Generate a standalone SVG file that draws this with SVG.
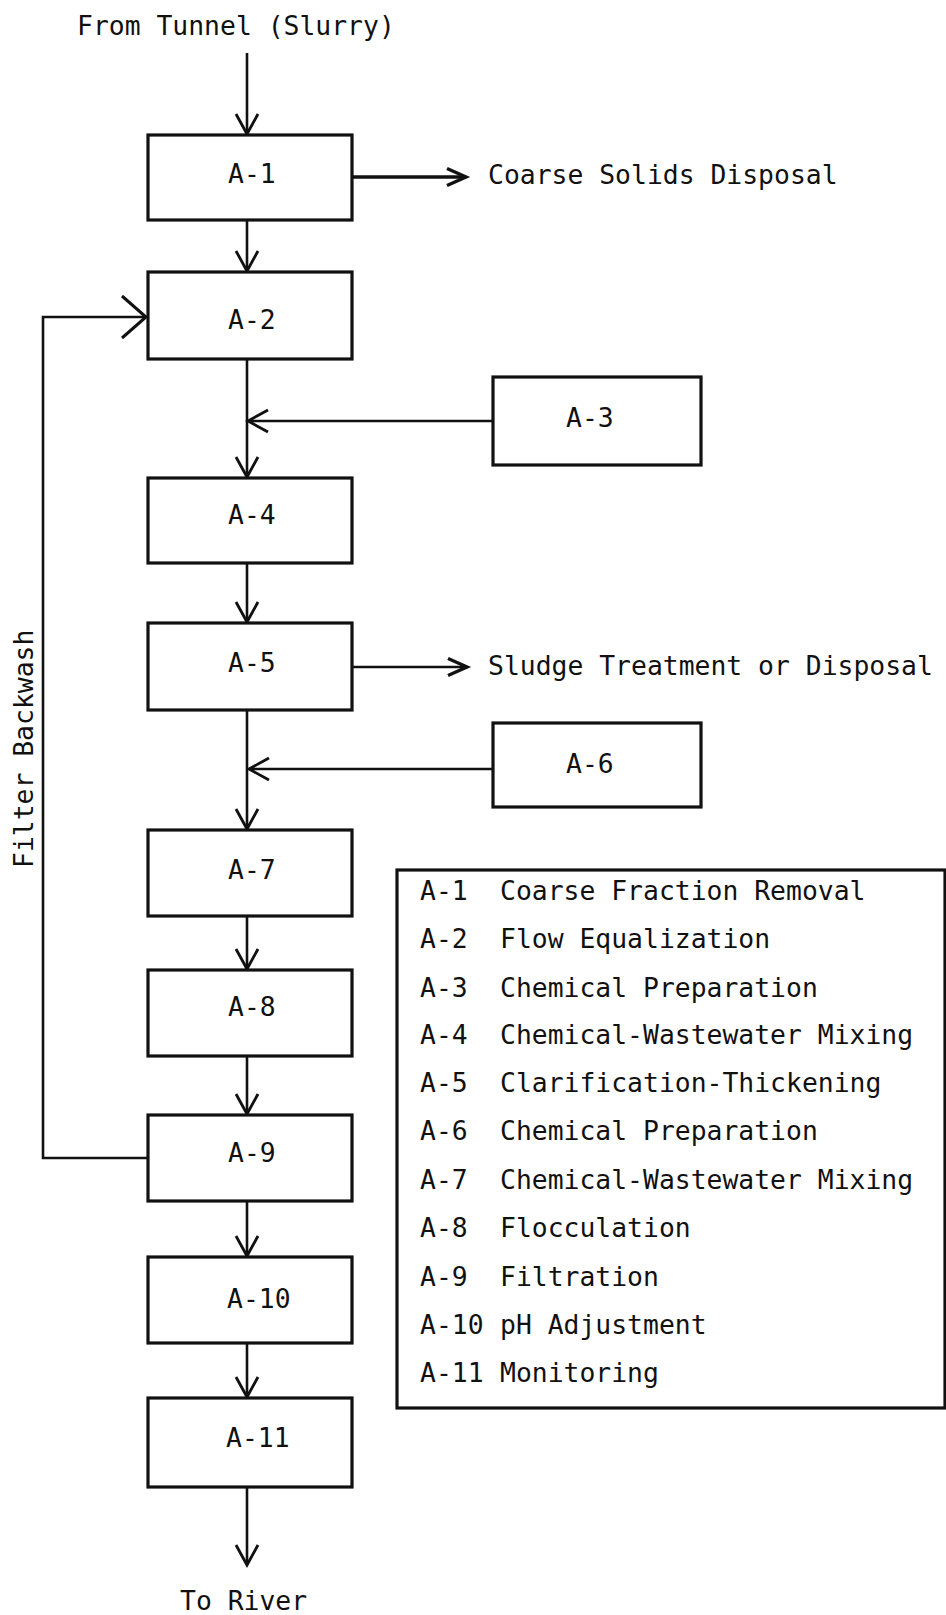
<svg xmlns="http://www.w3.org/2000/svg" width="946" height="1615" viewBox="0 0 946 1615">
<style>
text{font-family:"DejaVu Sans Mono","Liberation Mono",monospace;font-size:26.4px;fill:#111}
.box{fill:#fff;stroke:#111;stroke-width:3.2}
.ln{fill:none;stroke:#111;stroke-width:2.6}
.thick{stroke-width:3.6}
</style>
<defs>
<marker id="ah" markerUnits="userSpaceOnUse" markerWidth="30" markerHeight="30" viewBox="-25 -15 30 30" refX="0" refY="0" orient="auto" overflow="visible">
<path d="M-20,-11 L0,0 L-20,11" fill="none" stroke="#111" stroke-width="2.8"/>
</marker>
<marker id="ahs" markerUnits="userSpaceOnUse" markerWidth="30" markerHeight="30" viewBox="-25 -15 30 30" refX="0" refY="0" orient="auto" overflow="visible">
<path d="M-19,-8.5 L0,0 L-19,8.5" fill="none" stroke="#111" stroke-width="3.4"/>
</marker>
<marker id="ahb" markerUnits="userSpaceOnUse" markerWidth="40" markerHeight="50" viewBox="-30 -25 40 50" refX="0" refY="0" orient="auto" overflow="visible">
<path d="M-24,-21 L0,0 L-24,21" fill="none" stroke="#111" stroke-width="3"/>
</marker>
</defs>
<rect width="946" height="1615" fill="#fff"/>

<g id="connectors">
<path class="ln" d="M247,53 V134" marker-end="url(#ah)"/>
<path class="ln" d="M247,220 V271" marker-end="url(#ah)"/>
<path class="ln" d="M247,359 V477" marker-end="url(#ah)"/>
<path class="ln" d="M493,421 H248" marker-end="url(#ah)"/>
<path class="ln" d="M247,563 V622" marker-end="url(#ah)"/>
<path class="ln" d="M247,710 V829" marker-end="url(#ah)"/>
<path class="ln" d="M493,769 H249" marker-end="url(#ah)"/>
<path class="ln" d="M247,916 V969" marker-end="url(#ah)"/>
<path class="ln" d="M247,1056 V1114" marker-end="url(#ah)"/>
<path class="ln" d="M247,1201 V1256" marker-end="url(#ah)"/>
<path class="ln" d="M247,1343 V1397" marker-end="url(#ah)"/>
<path class="ln" d="M247,1487 V1565" marker-end="url(#ah)"/>
<path class="ln thick" d="M352,177 H466" marker-end="url(#ahs)"/>
<path class="ln" d="M352,667 H467" marker-end="url(#ahs)"/>
<path class="ln" d="M148,1158 H43 V317 H146" marker-end="url(#ahb)"/>
</g>

<g id="A-1"><rect class="box" x="148" y="135" width="204" height="85"/><text x="228" y="183">A-1</text></g>
<g id="A-2"><rect class="box" x="148" y="272" width="204" height="87"/><text x="228" y="329">A-2</text></g>
<g id="A-3"><rect class="box" x="493" y="377" width="208" height="88"/><text x="566" y="427">A-3</text></g>
<g id="A-4"><rect class="box" x="148" y="478" width="204" height="85"/><text x="228" y="524">A-4</text></g>
<g id="A-5"><rect class="box" x="148" y="623" width="204" height="87"/><text x="228" y="672">A-5</text></g>
<g id="A-6"><rect class="box" x="493" y="723" width="208" height="84"/><text x="566" y="773">A-6</text></g>
<g id="A-7"><rect class="box" x="148" y="830" width="204" height="86"/><text x="228" y="879">A-7</text></g>
<g id="A-8"><rect class="box" x="148" y="970" width="204" height="86"/><text x="228" y="1016">A-8</text></g>
<g id="A-9"><rect class="box" x="148" y="1115" width="204" height="86"/><text x="228" y="1162">A-9</text></g>
<g id="A-10"><rect class="box" x="148" y="1257" width="204" height="86"/><text x="227" y="1308">A-10</text></g>
<g id="A-11"><rect class="box" x="148" y="1398" width="204" height="89"/><text x="226" y="1447">A-11</text></g>

<g id="labels">
<text x="77" y="35">From Tunnel (Slurry)</text>
<text x="488" y="184">Coarse Solids Disposal</text>
<text x="488" y="675">Sludge Treatment or Disposal</text>
<text x="180" y="1610">To River</text>
<text transform="translate(33,868) rotate(-90)">Filter Backwash</text>
</g>

<g id="legend">
<rect class="box" x="397" y="870" width="548" height="538"/>
<text x="420" y="900">A-1</text><text x="500" y="900">Coarse Fraction Removal</text>
<text x="420" y="948">A-2</text><text x="500" y="948">Flow Equalization</text>
<text x="420" y="997">A-3</text><text x="500" y="997">Chemical Preparation</text>
<text x="420" y="1044">A-4</text><text x="500" y="1044">Chemical-Wastewater Mixing</text>
<text x="420" y="1092">A-5</text><text x="500" y="1092">Clarification-Thickening</text>
<text x="420" y="1140">A-6</text><text x="500" y="1140">Chemical Preparation</text>
<text x="420" y="1189">A-7</text><text x="500" y="1189">Chemical-Wastewater Mixing</text>
<text x="420" y="1237">A-8</text><text x="500" y="1237">Flocculation</text>
<text x="420" y="1286">A-9</text><text x="500" y="1286">Filtration</text>
<text x="420" y="1334">A-10</text><text x="500" y="1334">pH Adjustment</text>
<text x="420" y="1382">A-11</text><text x="500" y="1382">Monitoring</text>
</g>
</svg>
